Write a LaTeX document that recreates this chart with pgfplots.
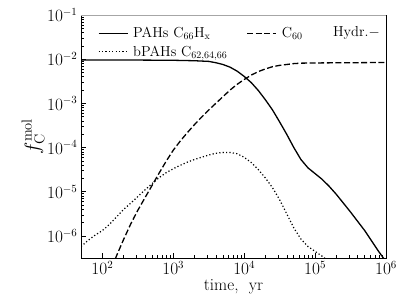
\documentclass[border=0pt]{standalone}
\usepackage{pgfplots}
\pgfplotsset{compat=1.18}
\begin{document}
\begin{tikzpicture}
\begin{axis}[
  name=ax,
  scale only axis,
  width=305pt, height=243pt,
  xmode=log, ymode=log,
  xmin=50, xmax=1e6,
  ymin=3.1623e-7, ymax=0.1,
  tick align=inside,
  xtick pos=bottom, ytick pos=left,
  major tick length=5pt, minor tick length=3pt,
  every tick/.style={black, line width=0.6pt},
  axis line style={black, line width=0.8pt},
  xtick={1e2,1e3,1e4,1e5,1e6},
  ytick={1e-6,1e-5,1e-4,1e-3,1e-2,1e-1},
  tick label style={font=\fontsize{16}{18}\selectfont},
  xlabel={time,\ \ yr},
  xlabel style={font=\fontsize{17}{19}\selectfont, yshift=2pt},
  ylabel={$f_{\mathrm{C}}^{\mathrm{mol}}$},
  ylabel style={font=\fontsize{20}{22}\selectfont, yshift=-4pt},
  legend columns=2,
  legend cell align=left,
  legend style={draw=none, fill=none, at={(axis description cs:0.045,0.966)}, anchor=north west,
    font=\fontsize{14.5}{16}\selectfont, row sep=2.5pt,
    /tikz/every odd column/.append style={column sep=3pt},
    /tikz/every even column/.append style={column sep=17pt}},
  legend image code/.code={\draw[#1] (0pt,0pt) -- (29pt,0pt);},
]
\addplot[black, line width=1.3pt] coordinates {
(50,9.550e-3) (316.2,9.550e-3) (1000,9.441e-3) (1995,9.226e-3) (3162,8.913e-3) (3981,8.318e-3)
(5012,7.586e-3) (6310,6.607e-3) (7943,5.370e-3) (10000,4.074e-3) (12590,2.951e-3)
(15850,1.950e-3) (19950,1.202e-3) (25120,7.079e-4) (31620,3.802e-4) (39810,1.995e-4)
(50120,1.0e-4) (63100,5.370e-5) (79430,3.467e-5) (100000,2.570e-5) (125900,1.905e-5)
(158500,1.318e-5) (199500,8.710e-6) (251200,5.495e-6) (316200,3.467e-6) (398100,2.138e-6)
(501200,1.318e-6) (631000,7.586e-7) (794300,4.365e-7) (1e6,2.630e-7)
};
\addlegendentry{PAHs C$_{66}$H$_{\mathrm{x}}$}
\addplot[black, line width=1.3pt, dash pattern=on 6pt off 2.6pt] coordinates {
(138,1.995e-7) (158.5,3.548e-7) (199.5,8.318e-7) (251.2,1.862e-6) (316.2,3.802e-6)
(398.1,7.244e-6) (501.2,1.380e-5) (631,2.630e-5) (794.3,4.898e-5) (1000,8.710e-5)
(1259,1.413e-4) (1585,2.188e-4) (1995,3.311e-4) (2512,4.898e-4) (3162,7.079e-4)
(3981,1.0e-3) (5012,1.413e-3) (6310,1.995e-3) (7943,2.692e-3) (10000,3.467e-3)
(12590,4.365e-3) (15850,5.248e-3) (19950,6.026e-3) (25120,6.761e-3) (31620,7.244e-3)
(39810,7.586e-3) (50120,7.943e-3) (63100,8.128e-3) (100000,8.222e-3) (316200,8.318e-3)
(1e6,8.414e-3)
};
\addlegendentry{C$_{60}$}
\addplot[black, line width=1.2pt, dash pattern=on 1.2pt off 2.2pt] coordinates {
(50,5.754e-7) (63.10,7.943e-7) (79.43,1.047e-6) (100,1.318e-6) (125.9,1.820e-6)
(158.5,2.692e-6) (199.5,3.981e-6) (251.2,5.495e-6) (316.2,7.762e-6) (398.1,1.096e-5)
(501.2,1.514e-5) (631,2.089e-5) (794.3,2.692e-5) (1000,3.311e-5) (1259,3.981e-5)
(1585,4.677e-5) (1995,5.370e-5) (2512,6.026e-5) (3162,6.761e-5) (3981,7.413e-5)
(5012,7.762e-5) (6310,7.762e-5) (7943,7.244e-5) (10000,6.026e-5) (12590,4.571e-5)
(15850,3.162e-5) (19950,2.042e-5) (25120,1.230e-5) (31620,6.607e-6) (39810,3.162e-6)
(50120,1.514e-6) (63100,8.511e-7) (79430,5.754e-7) (100000,4.467e-7) (125900,3.467e-7)
(158500,2.630e-7)
};
\addlegendentry{bPAHs C$_{62,64,66}$}
\draw[gray!70, line width=0.8pt] (rel axis cs:0,1) -- (rel axis cs:1,1);
\node[anchor=east, font=\fontsize{14.5}{16}\selectfont, inner sep=0pt] at (axis description cs:0.98,0.928) {Hydr.$-$};
\end{axis}
\pgfresetboundingbox
\path ([shift={(-81pt,-47pt)}]ax.south west) rectangle ([shift={(21pt,15pt)}]ax.north east);
\end{tikzpicture}
\end{document}
